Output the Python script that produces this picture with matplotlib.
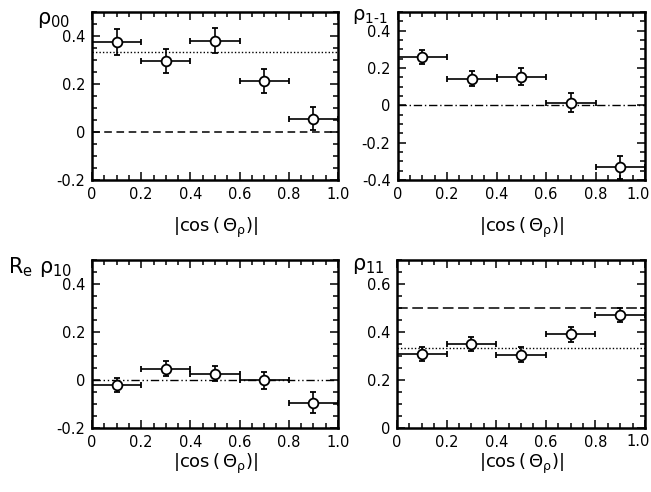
import matplotlib
matplotlib.use("Agg")
import matplotlib.pyplot as plt
from matplotlib.ticker import MultipleLocator, FuncFormatter

# bin centres and half-widths in |cos(theta_rho)|
x_bins = [0.1, 0.3, 0.5, 0.7, 0.9]
x_half = [0.1, 0.1, 0.1, 0.1, 0.1]

# spin density matrix elements per bin
rho00 = [0.375, 0.294, 0.380, 0.211, 0.055]
rho00_err = [0.055, 0.050, 0.052, 0.050, 0.048]

rho1m1 = [0.260, 0.143, 0.154, 0.014, -0.332]
rho1m1_err = [0.038, 0.042, 0.044, 0.050, 0.063]

re_rho10 = [-0.021, 0.047, 0.026, -0.001, -0.094]
re_rho10_err = [0.028, 0.031, 0.031, 0.036, 0.042]

rho11 = [0.309, 0.350, 0.305, 0.390, 0.470]
rho11_err = [0.030, 0.031, 0.031, 0.030, 0.028]

plt.rcParams["font.family"] = ["DejaVu Sans"]
plt.rcParams["mathtext.fontset"] = "dejavusans"

fig = plt.figure(figsize=(6.51, 4.92), dpi=100)

W, H = 651.0, 492.0
def place(left, top, right, bottom):
    return fig.add_axes([left / W, 1 - bottom / H, (right - left) / W, (bottom - top) / H])

ax_tl = place(92, 12, 338, 180)
ax_tr = place(397.5, 12, 645, 180)
ax_bl = place(92, 260, 338, 428)
ax_br = place(397, 260, 645, 428)

def tick_text(v):
    return "0" if abs(v) < 1e-9 else f"{v:.1f}"

fmt = FuncFormatter(lambda v, p: tick_text(v))
# right-hand panels: the "1.0" label is drawn separately so it stays inside the figure
fmt_right = FuncFormatter(lambda v, p: "" if abs(v - 1.0) < 1e-9 else tick_text(v))

def style(ax, ylim, right_col=False, labelpad=10):
    ax.set_xlim(0, 1.0)
    ax.set_ylim(*ylim)
    ax.xaxis.set_major_locator(MultipleLocator(0.2))
    ax.xaxis.set_minor_locator(MultipleLocator(0.05))
    ax.yaxis.set_major_locator(MultipleLocator(0.2))
    ax.yaxis.set_minor_locator(MultipleLocator(0.05))
    ax.xaxis.set_major_formatter(fmt_right if right_col else fmt)
    ax.yaxis.set_major_formatter(fmt)
    ax.tick_params(which="both", direction="in", top=True, right=True,
                   width=1.1, labelsize=10.5, colors="black")
    ax.tick_params(which="major", length=6, pad=5)
    ax.tick_params(which="minor", length=3.5)
    for s in ax.spines.values():
        s.set_linewidth(1.8)
    ax.set_xlabel(r"$\mathregular{|cos\,(\,\Theta_\rho)|}$", fontsize=13, labelpad=labelpad)
    if right_col:
        bottom_px = H * (1 - ax.get_position().y0)
        fig.text(650 / W, 1 - (bottom_px + 6.5) / H, "1.0", ha="right", va="top",
                 fontsize=10.5)

def points(ax, y, yerr):
    ax.errorbar(x_bins, y, xerr=x_half, yerr=yerr, fmt="o", color="black",
                mfc="white", mec="black", ms=7, mew=1.3, elinewidth=1.2,
                capsize=2.5, capthick=1.1, zorder=3)

# rho_00
style(ax_tl, (-0.2, 0.5))
ax_tl.axhline(1 / 3, color="black", ls=(0, (1, 1.5)), lw=1.0)
ax_tl.axhline(0, color="black", ls=(0, (5, 3)), lw=1.1)
points(ax_tl, rho00, rho00_err)
fig.text(37 / W, 1 - 24 / H, r"$\mathregular{\rho_{00}}$", fontsize=15)

# rho_1-1
style(ax_tr, (-0.4, 0.5), right_col=True)
ax_tr.axhline(0, color="black", ls=(0, (6, 2, 1, 2)), lw=1.0)
points(ax_tr, rho1m1, rho1m1_err)
fig.text(352 / W, 1 - 20 / H, r"$\mathregular{\rho_{1\text{-}1}}$", fontsize=14)

# Re rho_10
style(ax_bl, (-0.2, 0.5), labelpad=1)
ax_bl.axhline(0, color="black", ls=(0, (6, 2, 1, 2, 1, 2)), lw=1.0)
points(ax_bl, re_rho10, re_rho10_err)
fig.text(8 / W, 1 - 273 / H, r"$\mathregular{R_e\ \rho_{10}}$", fontsize=15)

# rho_11
style(ax_br, (0, 0.7), right_col=True, labelpad=1)
ax_br.axhline(0.5, color="black", ls=(0, (7, 3)), lw=1.1)
ax_br.axhline(1 / 3, color="black", ls=(0, (1, 1.5)), lw=1.0)
points(ax_br, rho11, rho11_err)
fig.text(352 / W, 1 - 270 / H, r"$\mathregular{\rho_{11}}$", fontsize=15)

fig.savefig("out.png", dpi=100)
